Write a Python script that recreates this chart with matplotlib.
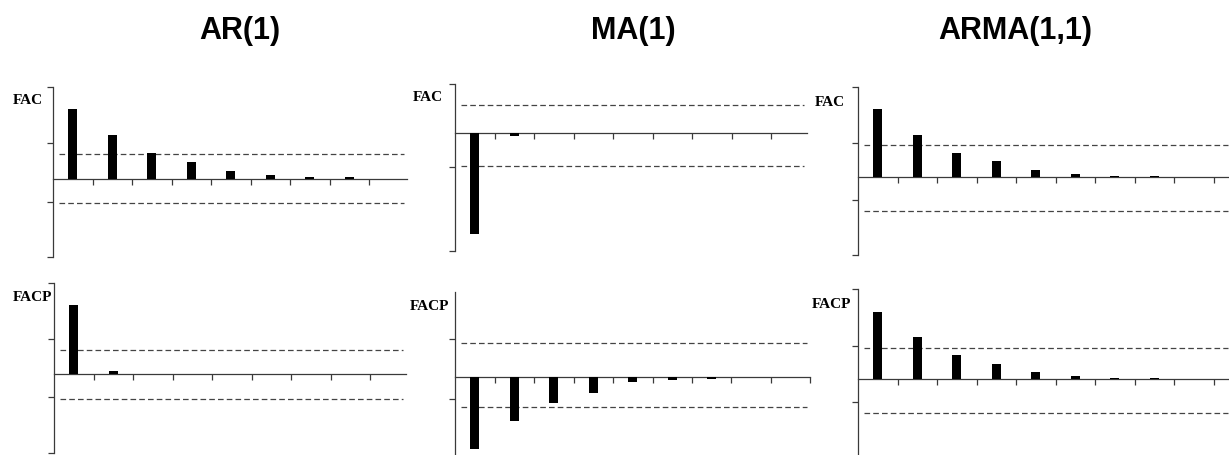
import matplotlib
matplotlib.use("Agg")
import matplotlib.pyplot as plt

# values (1.0 = 100 px of the original drawing)
lags = [1, 2, 3, 4, 5, 6, 7, 8]

fac_ar = [0.70, 0.44, 0.26, 0.17, 0.08, 0.04, 0.02, 0.02]
facp_ar = [0.69, 0.03]

fac_ma = [-1.01, -0.03]
facp_ma = [-0.72, -0.44, -0.26, -0.16, -0.05, -0.03, -0.02]

fac_arma = [0.68, 0.42, 0.24, 0.16, 0.07, 0.03, 0.015, 0.015]
facp_arma = [0.67, 0.42, 0.24, 0.15, 0.07, 0.03, 0.013, 0.013]

# confidence bands (upper, lower)
band_fac_ar = (0.255, -0.243)
band_facp_ar = (0.237, -0.253)
band_fac_ma = (0.28, -0.33)
band_facp_ma = (0.334, -0.306)
band_fac_arma = (0.32, -0.334)
band_facp_arma = (0.316, -0.334)

titles = ["AR(1)", "MA(1)", "ARMA(1,1)"]

W, H = 1229, 455
STEP = 39.5  # px per lag

# layout in pixels: spine x, zero y, top y, bottom y, x extent (lags), y ticks px, x ticks
panels = [
    dict(vals=fac_ar, band=band_fac_ar, x=53, zero=179, top=87, bot=257, xmax=8.96,
         yt=[87, 143, 202, 257], xt=range(1, 9), label="FAC", lx=13, ly=101),
    dict(vals=facp_ar, band=band_facp_ar, x=54, zero=373.7, top=283, bot=453, xmax=8.92,
         yt=[283, 339.3, 397.3, 453], xt=range(1, 9), label="FACP", lx=13, ly=297.5),
    dict(vals=fac_ma, band=band_fac_ma, x=455, zero=133, top=84, bot=251, xmax=8.92,
         yt=[84, 167, 251], xt=range(1, 9), label="FAC", lx=413, ly=97.5),
    dict(vals=facp_ma, band=band_facp_ma, x=455, zero=376.7, top=292, bot=460, xmax=9.0,
         yt=[339.3, 399.3], xt=range(1, 10), label="FACP", lx=410, ly=307),
    dict(vals=fac_arma, band=band_fac_arma, x=858, zero=177.3, top=87, bot=255, xmax=9.45,
         yt=[87, 142.7, 200, 255], xt=range(1, 10), label="FAC", lx=815, ly=102),
    dict(vals=facp_arma, band=band_facp_arma, x=858, zero=379.3, top=289.3, bot=460, xmax=9.45,
         yt=[289.3, 345.7, 401.7], xt=range(1, 10), label="FACP", lx=812, ly=305),
]

axis_col = "#3a3a3a"

fig = plt.figure(figsize=(W / 100, H / 100), dpi=100)

for p in panels:
    left = p["x"] / W
    bottom = 1 - p["bot"] / H
    width = p["xmax"] * STEP / W
    height = (p["bot"] - p["top"]) / H
    ax = fig.add_axes([left, bottom, width, height])
    ax.set_xlim(0, p["xmax"])
    ax.set_ylim((p["zero"] - p["bot"]) / 100, (p["zero"] - p["top"]) / 100)

    n = len(p["vals"])
    ax.bar([k - 0.5 for k in lags[:n]], p["vals"], width=0.22, color="black", zorder=3)

    up, lo = p["band"]
    for b in (up, lo):
        ax.hlines(b, 0.15, p["xmax"] - 0.08, colors="#444444", linewidth=0.9,
                  linestyles=(0, (4.5, 2.5)), zorder=2)

    for s in ("top", "right"):
        ax.spines[s].set_visible(False)
    ax.spines["bottom"].set_position(("data", 0))
    for s in ("left", "bottom"):
        ax.spines[s].set_color(axis_col)
        ax.spines[s].set_linewidth(0.9)

    ax.set_xticks(list(p["xt"]))
    ax.set_yticks([(p["zero"] - t) / 100 for t in p["yt"]])
    ax.tick_params(axis="both", direction="out", length=4, width=0.9, color=axis_col,
                   labelleft=False, labelbottom=False)
    ax.patch.set_alpha(0)

    fig.text(p["lx"] / W, 1 - p["ly"] / H, p["label"], family="Liberation Serif",
             fontweight="bold", fontsize=11, ha="left", va="center")

for t, cx in zip(titles, [240, 633, 1015]):
    fig.text(cx / W, 1 - 38.5 / H, t, family="Liberation Sans", fontweight="bold",
             fontsize=22, ha="center", va="baseline")

fig.savefig("out.png", dpi=100)
